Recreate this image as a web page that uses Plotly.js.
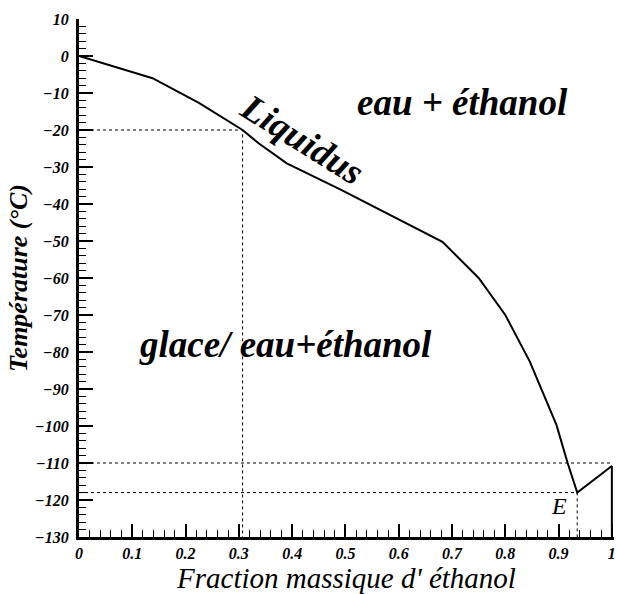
<!DOCTYPE html>
<html>
<head>
<meta charset="utf-8">
<script src="https://cdn.plot.ly/plotly-3.0.1.min.js"></script>
<style>
  html, body { margin: 0; padding: 0; background: #fff; }
  #chart { width: 617px; height: 594px; }
</style>
</head>
<body>
<div id="chart"></div>
<script>
// Liquidus of the water / ethanol system (mass fraction of ethanol vs temperature)
const liquidusX = [0, 0.138, 0.225, 0.307, 0.337, 0.39, 0.492, 0.595, 0.682, 0.75, 0.80, 0.846, 0.896, 0.917, 0.935, 1.0, 1.0];
const liquidusT = [0, -6, -12.7, -20, -23.6, -29, -36.2, -43.9, -50.2, -60, -70, -82.6, -99.7, -110, -118, -110.8, -130];

// Reading guide at -20 °C
const guide20X = [0, 0.307, 0.307];
const guide20T = [-20, -20, -130];

// Eutectic point E and its guides
const eutecticX = [0, 0.935, 0.935];
const eutecticT = [-118, -118, -130];

// Horizontal guide at -110 °C
const guide110X = [0, 1];
const guide110T = [-110, -110];

const xTickVals = [0, 0.1, 0.2, 0.3, 0.4, 0.5, 0.6, 0.7, 0.8, 0.9, 1];
const xTickText = ['0', '0.1', '0.2', '0.3', '0.4', '0.5', '0.6', '0.7', '0.8', '0.9', '1'];
const yTickVals = [10, 0, -10, -20, -30, -40, -50, -60, -70, -80, -90, -100, -110, -120, -130];

const serif = 'Liberation Serif, Times New Roman, serif';

const dashed = { color: '#000', width: 1, dash: '3px,3px' };

const traces = [
  { x: guide20X, y: guide20T, mode: 'lines', line: dashed, hoverinfo: 'skip' },
  { x: guide110X, y: guide110T, mode: 'lines', line: dashed, hoverinfo: 'skip' },
  { x: eutecticX, y: eutecticT, mode: 'lines', line: dashed, hoverinfo: 'skip' },
  { x: liquidusX, y: liquidusT, mode: 'lines', line: { color: '#000', width: 2 } }
];

const tickFont = { family: serif, size: 16, color: '#000', weight: 'bold', style: 'italic' };
const bigFont = { family: serif, size: 37, color: '#000', weight: 'bold', style: 'italic' };

const layout = {
  width: 617,
  height: 594,
  margin: { l: 79, r: 3, t: 19, b: 57 },
  paper_bgcolor: '#fff',
  plot_bgcolor: '#fff',
  showlegend: false,
  xaxis: {
    // small headroom past 1 so the closing vertical segment stays visible
    range: [0, 1.004],
    tickvals: xTickVals,
    ticktext: xTickText,
    ticks: 'inside',
    ticklen: 13,
    tickwidth: 2,
    tickcolor: '#000',
    minor: { dtick: 0.02, ticks: 'inside', ticklen: 7, tickwidth: 1, tickcolor: '#000' },
    showline: true,
    linewidth: 3,
    linecolor: '#000',
    showgrid: false,
    zeroline: false,
    tickfont: tickFont,
    ticklabeloverflow: 'allow',
    title: {
      text: "Fraction massique d' éthanol",
      font: { family: serif, size: 29, color: '#000', style: 'italic' },
      standoff: 10
    }
  },
  yaxis: {
    range: [-130, 10],
    tickvals: yTickVals,
    ticks: 'inside',
    ticklen: 14,
    tickwidth: 2,
    tickcolor: '#000',
    minor: { dtick: 2, ticks: 'inside', ticklen: 7, tickwidth: 1, tickcolor: '#000' },
    showline: true,
    linewidth: 3,
    linecolor: '#000',
    showgrid: false,
    zeroline: false,
    tickfont: tickFont,
    ticklabelstandoff: 4,
    title: {
      text: 'Température (°C)',
      font: { family: serif, size: 26, color: '#000', weight: 'bold', style: 'italic' },
      standoff: 0
    }
  },
  annotations: [
    { x: 0.42, y: -22.5, xref: 'x', yref: 'y', text: 'Liquidus', showarrow: false, textangle: 32, font: bigFont },
    { x: 0.719, y: -12.7, xref: 'x', yref: 'y', text: 'eau + éthanol', showarrow: false, font: bigFont },
    { x: 0.387, y: -78.1, xref: 'x', yref: 'y', text: 'glace/ eau+éthanol', showarrow: false, font: bigFont },
    { x: 0.901, y: -121.6, xref: 'x', yref: 'y', text: 'E', showarrow: false,
      font: { family: serif, size: 24, color: '#000', style: 'italic' } }
  ]
};

Plotly.newPlot('chart', traces, layout, { displayModeBar: false, staticPlot: true });
</script>
</body>
</html>
